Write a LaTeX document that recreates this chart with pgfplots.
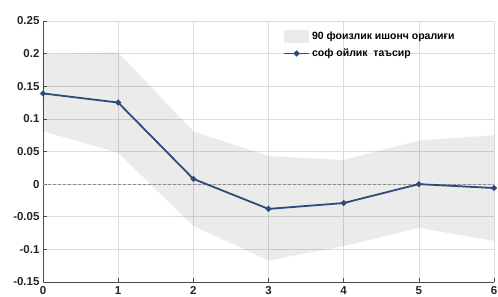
\documentclass[border=0pt]{standalone}
\usepackage{fontspec}
\setmainfont{Liberation Sans}
\usepackage{pgfplots}
\pgfplotsset{compat=1.18}
\definecolor{bandgray}{HTML}{EBEBEB}
\definecolor{lineblue}{HTML}{2E4A7A}
\definecolor{gridgray}{HTML}{DCDCDC}
\begin{document}
\begin{tikzpicture}[x=1pt,y=1pt]
\begin{axis}[
  name=ax,
  scale only axis,
  width=451pt, height=261pt,
  xmin=0, xmax=6, ymin=-0.15, ymax=0.25,
  xtick={0,1,2,3,4,5,6},
  ytick={-0.15,-0.1,-0.05,0,0.05,0.1,0.15,0.2,0.25},
  yticklabels={-0.15,-0.1,-0.05,0,0.05,0.1,0.15,0.2,0.25},
  axis x line*=bottom, axis y line*=left,
  axis line style={-, draw=black!70, line width=0.8pt},
  tick align=inside,
  major tick length=4pt,
  tick style={draw=black!70, line width=0.6pt},
  grid=major,
  major grid style={draw=gridgray, line width=0.6pt},
  ticklabel style={font=\bfseries\fontsize{11.5}{13}\selectfont, text=black!85},
  xticklabel style={yshift=-1pt},
  /pgf/number format/assume math mode=true,
  clip=false,
  legend style={at={(0.53,0.975)}, anchor=north west, draw=none, fill=none,
    font=\bfseries\fontsize{10.5}{12}\selectfont, row sep=4pt,
    inner xsep=1pt, inner ysep=2pt},
  legend cell align=left,
]
\addplot[fill=black, fill opacity=0.08, draw=none, area legend,
  legend image code/.code={\fill[bandgray, fill opacity=1] (0pt,-6.5pt) rectangle (25pt,6.5pt);}]
  coordinates {(0,0.199) (1,0.202) (2,0.081) (3,0.043) (4,0.037) (5,0.067) (6,0.075)
               (6,-0.087) (5,-0.067) (4,-0.095) (3,-0.117) (2,-0.064) (1,0.048) (0,0.081)} -- cycle;
\addlegendentry{90 фоизлик ишонч оралиғи}
\addplot[draw=black!45, line width=0.9pt, dash pattern=on 3pt off 2pt, forget plot] coordinates {(0,0) (6,0)};
\addplot[lineblue, line width=1.8pt, mark=*, mark size=1.9pt,
  legend image code/.code={\draw[lineblue, line width=1.8pt] (0pt,0pt) -- (25pt,0pt); \fill[lineblue] (12.5pt,0pt) circle (1.9pt);}]
  coordinates {(0,0.139) (1,0.125) (2,0.008) (3,-0.038) (4,-0.029) (5,0.0) (6,-0.006)};
\addlegendentry{соф ойлик\ \ таъсир}
\end{axis}
\pgfresetboundingbox
\path ([shift={(-43pt,-15pt)}]ax.south west) rectangle ([shift={(4pt,21pt)}]ax.north east);
\end{tikzpicture}
\end{document}
